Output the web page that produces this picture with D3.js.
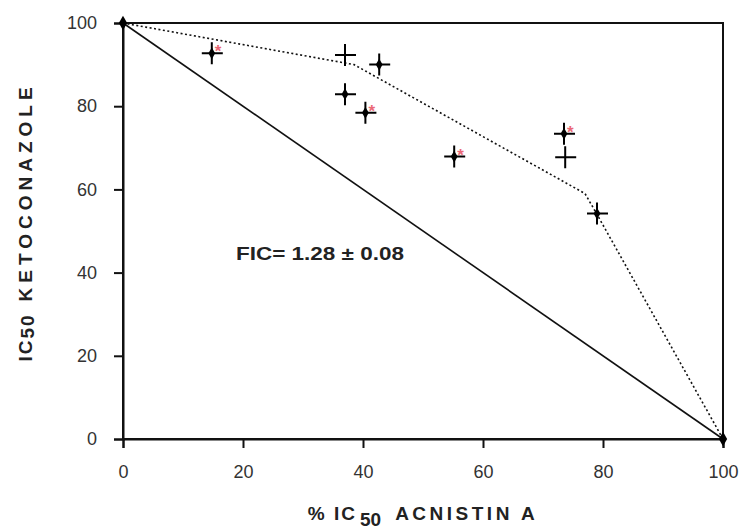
<!DOCTYPE html>
<html>
<head>
<meta charset="utf-8">
<script src="https://cdn.jsdelivr.net/npm/d3@7"></script>
<style>
  body { margin: 0; background: #fff; }
  svg { display: block; }
  .tick text { font-family: "Liberation Sans", Arial, sans-serif; fill: #333; }
</style>
</head>
<body>
<svg width="745" height="531"></svg>
<script>
// data
const xTicks = [0, 20, 40, 60, 80, 100];
const yTicks = [0, 20, 40, 60, 80, 100];

const pointX = [14.8, 37.0, 42.7, 37.0, 40.4, 55.2, 73.5, 73.7, 79.0];
const pointY = [92.7, 92.3, 90.0, 82.9, 78.4, 67.9, 73.4, 67.7, 54.2];
const starred = [true, false, false, false, true, true, true, false, false];
const bold = [true, false, true, true, true, true, true, false, true];

const additiveX = [0, 100];
const additiveY = [100, 0];

const curveX = [0, 38.5, 77, 79, 100];
const curveY = [100, 90, 59, 54, 0];

const ficText = 'FIC= 1.28 \u00b1 0.08';

var svg = d3.select('svg');
var margin = {left: 123, right: 22, top: 23, bottom: 92};
var width = 745 - margin.left - margin.right,
    height = 531 - margin.top - margin.bottom;

var x = d3.scaleLinear().domain([0, 100]).range([margin.left, margin.left + width]);
var y = d3.scaleLinear().domain([0, 100]).range([margin.top + height, margin.top]);

// frame
svg.append('rect')
   .attr('x', x(0)).attr('y', y(100))
   .attr('width', width).attr('height', height)
   .attr('fill', 'none').attr('stroke', '#111').attr('stroke-width', 2);

var xAxis = svg.append('g')
   .attr('transform', 'translate(0,' + y(0) + ')')
   .call(d3.axisBottom(x).tickValues(xTicks).tickSize(9).tickPadding(17).tickFormat(d3.format('d')));
var yAxis = svg.append('g')
   .attr('transform', 'translate(' + x(0) + ',0)')
   .call(d3.axisLeft(y).tickValues(yTicks).tickSize(9).tickPadding(17).tickFormat(d3.format('d')));

[xAxis, yAxis].forEach(function(a) {
  a.select('.domain').attr('stroke', '#111').attr('stroke-width', 2);
  a.selectAll('.tick line').attr('stroke', '#111').attr('stroke-width', 2);
  a.selectAll('.tick text').attr('font-size', 18);
});

var line = d3.line().x(d => x(d[0])).y(d => y(d[1]));

svg.append('path')
   .datum(additiveX.map((v, i) => [v, additiveY[i]]))
   .attr('d', line)
   .attr('fill', 'none').attr('stroke', '#111').attr('stroke-width', 1.6);

svg.append('path')
   .datum(curveX.map((v, i) => [v, curveY[i]]))
   .attr('d', line)
   .attr('fill', 'none').attr('stroke', '#111').attr('stroke-width', 1.6)
   .attr('stroke-dasharray', '2,2.5');

// end point markers
svg.selectAll('.endpt')
   .data(additiveX.map((v, i) => [v, additiveY[i]]))
   .enter().append('path')
   .attr('class', 'endpt')
   .attr('transform', d => 'translate(' + x(d[0]) + ',' + y(d[1]) + ')')
   .attr('d', d3.symbol().type(d3.symbolDiamond).size(60))
   .attr('fill', '#000');

var pts = pointX.map((v, i) => ({x: v, y: pointY[i], star: starred[i], bold: bold[i]}));

var g = svg.selectAll('.pt')
   .data(pts)
   .enter().append('g')
   .attr('class', 'pt')
   .attr('transform', d => 'translate(' + x(d.x) + ',' + y(d.y) + ')');

g.append('path')
   .attr('d', 'M-10,0H11M0,-11V11')
   .attr('stroke', '#000')
   .attr('stroke-width', 2);

g.filter(d => d.bold).append('path')
   .attr('d', d3.symbol().type(d3.symbolDiamond).size(40))
   .attr('fill', '#000');

g.filter(d => d.star).append('text')
   .attr('x', 3).attr('y', 4)
   .attr('font-family', 'Liberation Sans, Arial, sans-serif')
   .attr('font-size', 17)
   .attr('font-weight', 'bold')
   .attr('fill', '#e8505f')
   .attr('opacity', 0.85)
   .text('*');

svg.append('text')
   .attr('x', 236).attr('y', 260)
   .attr('font-family', 'Liberation Sans, Arial, sans-serif')
   .attr('font-size', 18)
   .attr('font-weight', 'bold')
   .attr('fill', '#222')
   .attr('textLength', 168)
   .attr('lengthAdjust', 'spacingAndGlyphs')
   .text(ficText);

// axis titles
var xt = svg.append('text')
   .attr('x', x(50)).attr('y', 520)
   .attr('text-anchor', 'middle')
   .attr('font-family', 'Liberation Sans, Arial, sans-serif')
   .attr('font-size', 19)
   .attr('font-weight', 'bold')
   .attr('fill', '#222');
xt.append('tspan').attr('letter-spacing', 2).text('% IC');
xt.append('tspan').attr('dy', 6).attr('dx', 3).text('50');
xt.append('tspan').attr('dy', -6).attr('dx', 14).attr('letter-spacing', 3.5).text('ACNISTIN A');

var yt = svg.append('text')
   .attr('transform', 'translate(32,' + 222 + ') rotate(-90)')
   .attr('text-anchor', 'middle')
   .attr('font-family', 'Liberation Sans, Arial, sans-serif')
   .attr('font-size', 19)
   .attr('font-weight', 'bold')
   .attr('fill', '#222');
yt.append('tspan').attr('letter-spacing', 2).text('IC');
yt.append('tspan').attr('dy', 2).attr('letter-spacing', 2).text('50');
yt.append('tspan').attr('dy', -2).attr('dx', 12).attr('letter-spacing', 5).text('KETOCONAZOLE');
</script>
</body>
</html>
